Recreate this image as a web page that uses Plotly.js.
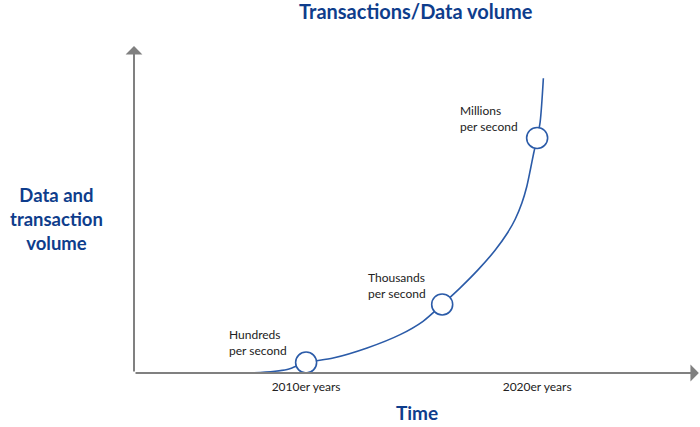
<!DOCTYPE html>
<html>
<head>
<meta charset="utf-8">
<script src="https://cdn.plot.ly/plotly-3.0.1.min.js"></script>
<style>html,body{margin:0;padding:0;background:#fff;}#chart{width:700px;height:427px;}</style>
</head>
<body>
<div id="chart"></div>
<script>
// Curve: year vs. relative volume index
const curveYears  = [2007.66, 2009.18, 2010.0, 2011.17, 2012.64, 2014.07, 2015.06, 2015.89, 2016.67, 2017.45, 2018.18, 2018.70, 2019.05, 2019.34, 2019.55, 2019.70, 2019.85, 2020.0, 2020.13, 2020.27];
const curveVolume = [0, 1.08, 3.23, 4.6, 7.7, 11.8, 15.9, 21.08, 26.2, 31.8, 37.75, 42.9, 47.3, 52.3, 57.3, 62.3, 67.6, 72.31, 77.2, 90.68];
// Milestones
const milestoneYears  = [2010.0, 2015.89, 2020.0];
const milestoneVolume = [3.23, 21.08, 72.31];
const milestoneLabels = ["Hundreds<br>per second", "Thousands<br>per second", "Millions<br>per second"];
// Axis ticks
const tickYears  = [2010, 2020];
const tickLabels = ["2010er years", "2020er years"];

const blue = "#2b5ba8";
const navy = "#0e3d8c";
const grey = "#808080";
const FONT = "Lato, 'Open Sans', sans-serif";

const traces = [
  {x: curveYears, y: curveVolume,
   mode: "lines", line: {color: blue, width: 1.6, shape: "spline", smoothing: 0.8},
   hoverinfo: "skip", cliponaxis: false},
  {x: milestoneYears, y: milestoneVolume, mode: "markers",
   marker: {size: 21, color: "#ffffff", line: {color: blue, width: 1.6}},
   hoverinfo: "skip", cliponaxis: false}
];

const labelOffsets = [[-48, -20], [-45, -19], [-48, -19]];
const annotations = milestoneLabels.map((t, i) => ({
  x: milestoneYears[i], y: milestoneVolume[i], xref: "x", yref: "y",
  text: t, showarrow: false, align: "left", xanchor: "center", yanchor: "middle",
  xshift: labelOffsets[i][0], yshift: -labelOffsets[i][1],
  font: {family: FONT, size: 12, color: "#222"}
}));

// axis arrows
annotations.push({x: 2027.0, y: 0, ax: 2002.55, ay: 0, xref: "x", yref: "y", axref: "x", ayref: "y",
  text: "", showarrow: true, arrowhead: 1, arrowsize: 1.4, arrowwidth: 2, arrowcolor: grey});
annotations.push({x: 2002.55, y: 100.6, ax: 2002.55, ay: 0, xref: "x", yref: "y", axref: "x", ayref: "y",
  text: "", showarrow: true, arrowhead: 1, arrowsize: 1.4, arrowwidth: 2, arrowcolor: grey});
// y title
annotations.push({xref: "paper", yref: "paper", x: -0.1378, y: 0.4695, xanchor: "center", yanchor: "middle",
  text: "<b>Data and<br>transaction<br>volume</b>", showarrow: false, align: "center",
  font: {family: FONT, size: 18.5, color: navy}});

const layout = {
  width: 700, height: 427,
  margin: {l: 134, r: 0, t: 45, b: 54},
  paper_bgcolor: "#fff", plot_bgcolor: "#fff",
  showlegend: false,
  title: {text: "<b>Transactions/Data volume</b>", x: 0.594, xanchor: "center", y: 0.972, yanchor: "middle",
          font: {family: FONT, size: 20, color: navy}},
  xaxis: {range: [2002.55, 2027.05], showgrid: false, zeroline: false, showline: false,
          tickvals: tickYears, ticktext: tickLabels, ticks: "", ticklabelstandoff: 5,
          tickfont: {family: FONT, size: 12, color: "#222"},
          title: {text: "<b>Time</b>", font: {family: FONT, size: 19, color: navy}, standoff: 13}},
  yaxis: {range: [0, 100.9], showgrid: false, zeroline: false, showline: false, showticklabels: false, ticks: ""},
  annotations: annotations
};

Plotly.newPlot("chart", traces, layout, {displayModeBar: false, staticPlot: true});
</script>
</body>
</html>
